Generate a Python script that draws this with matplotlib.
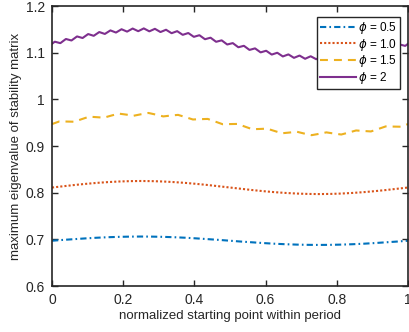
import numpy as np
import matplotlib
matplotlib.use("Agg")
import matplotlib.pyplot as plt
from matplotlib.ticker import FuncFormatter

plt.rcParams['font.family'] = ['Liberation Sans', 'DejaVu Sans']
plt.rcParams['mathtext.fontset'] = 'dejavusans'

# phi = 2 (fine ripple)
phi2 = [1.1190, 1.1235, 1.1219, 1.1204, 1.1249, 1.1293, 1.1277, 1.1261,
        1.1305, 1.1348, 1.1331, 1.1314, 1.1357, 1.1399, 1.1380, 1.1361,
        1.1402, 1.1442, 1.1422, 1.1401, 1.1439, 1.1477, 1.1455, 1.1431,
        1.1467, 1.1502, 1.1477, 1.1451, 1.1484, 1.1517, 1.1489, 1.1460,
        1.1490, 1.1520, 1.1489, 1.1457, 1.1484, 1.1511, 1.1477, 1.1442,
        1.1467, 1.1491, 1.1455, 1.1417, 1.1439, 1.1461, 1.1422, 1.1382,
        1.1402, 1.1421, 1.1380, 1.1339, 1.1357, 1.1374, 1.1331, 1.1288,
        1.1305, 1.1321, 1.1277, 1.1233, 1.1249, 1.1264, 1.1219, 1.1175,
        1.1190, 1.1205, 1.1161, 1.1116, 1.1131, 1.1147, 1.1103, 1.1059,
        1.1075, 1.1092, 1.1049, 1.1006, 1.1023, 1.1041, 1.1000, 1.0959,
        1.0978, 1.0998, 1.0958, 1.0919, 1.0941, 1.0963, 1.0925, 1.0889,
        1.0913, 1.0938, 1.0903, 1.0869, 1.0896, 1.0923, 1.0891, 1.0860,
        1.0890, 1.0920, 1.0891, 1.0863, 1.0896, 1.0929, 1.0903, 1.0878,
        1.0913, 1.0949, 1.0925, 1.0903, 1.0941, 1.0979, 1.0958, 1.0938,
        1.0978, 1.1019, 1.1000, 1.0981, 1.1023, 1.1066, 1.1049, 1.1032,
        1.1075, 1.1119, 1.1103, 1.1087, 1.1131, 1.1176, 1.1161, 1.1145,
        1.1190]

# phi = 1.5
phi15 = [0.9470, 0.9527, 0.9524, 0.9520, 0.9575, 0.9628, 0.9618, 0.9607,
         0.9652, 0.9694, 0.9673, 0.9648, 0.9680, 0.9708, 0.9673, 0.9634,
         0.9652, 0.9667, 0.9618, 0.9568, 0.9575, 0.9580, 0.9524, 0.9467,
         0.9470, 0.9473, 0.9416, 0.9360, 0.9365, 0.9372, 0.9322, 0.9273,
         0.9288, 0.9306, 0.9267, 0.9232, 0.9260, 0.9292, 0.9267, 0.9246,
         0.9288, 0.9333, 0.9322, 0.9312, 0.9365, 0.9420, 0.9416, 0.9413,
         0.9470]

# phi = 1.0
phi10 = [0.8110, 0.8137, 0.8164, 0.8188, 0.8209, 0.8226, 0.8239, 0.8247,
         0.8250, 0.8247, 0.8239, 0.8226, 0.8209, 0.8188, 0.8164, 0.8137,
         0.8110, 0.8083, 0.8056, 0.8032, 0.8011, 0.7994, 0.7981, 0.7973,
         0.7970, 0.7973, 0.7981, 0.7994, 0.8011, 0.8032, 0.8056, 0.8083,
         0.8110]

# phi = 0.5
phi05 = [0.6970, 0.6988, 0.7004, 0.7020, 0.7034, 0.7045, 0.7053, 0.7058,
         0.7060, 0.7058, 0.7053, 0.7045, 0.7034, 0.7020, 0.7004, 0.6988,
         0.6970, 0.6952, 0.6936, 0.6920, 0.6906, 0.6895, 0.6887, 0.6882,
         0.6880, 0.6882, 0.6887, 0.6895, 0.6906, 0.6920, 0.6936, 0.6952,
         0.6970]

labels = [r'$\phi$ = 0.5', r'$\phi$ = 1.0', r'$\phi$ = 1.5', r'$\phi$ = 2']
xticks = [0, 0.2, 0.4, 0.6, 0.8, 1]
yticks = [0.6, 0.7, 0.8, 0.9, 1.0, 1.1, 1.2]


def grid(vals):
    n = len(vals)
    return np.arange(n) / (n - 1)


fig = plt.figure(figsize=(4.09, 3.32), dpi=100)
ax = fig.add_axes([52 / 409, 1 - 286 / 332, 356 / 409, 280 / 332])

ax.plot(grid(phi05), phi05, color='#0072BD', lw=1.5, dashes=(3, 1.5, 0.8, 1.5), label=labels[0])
ax.plot(grid(phi10), phi10, color='#D95319', lw=1.5, dashes=(1, 1), label=labels[1])
ax.plot(grid(phi15), phi15, color='#EDB120', lw=1.5, dashes=(3.8, 2.9), label=labels[2])
ax.plot(grid(phi2), phi2, color='#7E2F8E', lw=1.5, label=labels[3])

ax.set_xlim(0, 1)
ax.set_ylim(0.6, 1.2)
ax.set_xticks(xticks)
ax.set_yticks(yticks)
fmt = FuncFormatter(lambda v, p: '%g' % round(v, 2))
ax.xaxis.set_major_formatter(fmt)
ax.yaxis.set_major_formatter(fmt)
ax.tick_params(direction='in', length=4, width=1, top=True, right=True,
               labelsize=10, colors='#262626', pad=5)
for s in ax.spines.values():
    s.set_color('#262626')
    s.set_linewidth(1.2)

ax.set_xlabel('normalized starting point within period', fontsize=9.5, color='#262626', labelpad=2)
ax.set_ylabel('maximum eigenvalue of stability matrix', fontsize=9.5, color='#262626', labelpad=3)

leg = ax.legend(loc='upper right', bbox_to_anchor=(0.9775, 0.9607), borderaxespad=0,
                fontsize=8.5, fancybox=False, edgecolor='#262626', framealpha=1,
                handlelength=3.0, handletextpad=0.2, labelspacing=0.05,
                borderpad=0.25)
leg.get_frame().set_linewidth(1.0)

fig.savefig('out.png', dpi=100)
